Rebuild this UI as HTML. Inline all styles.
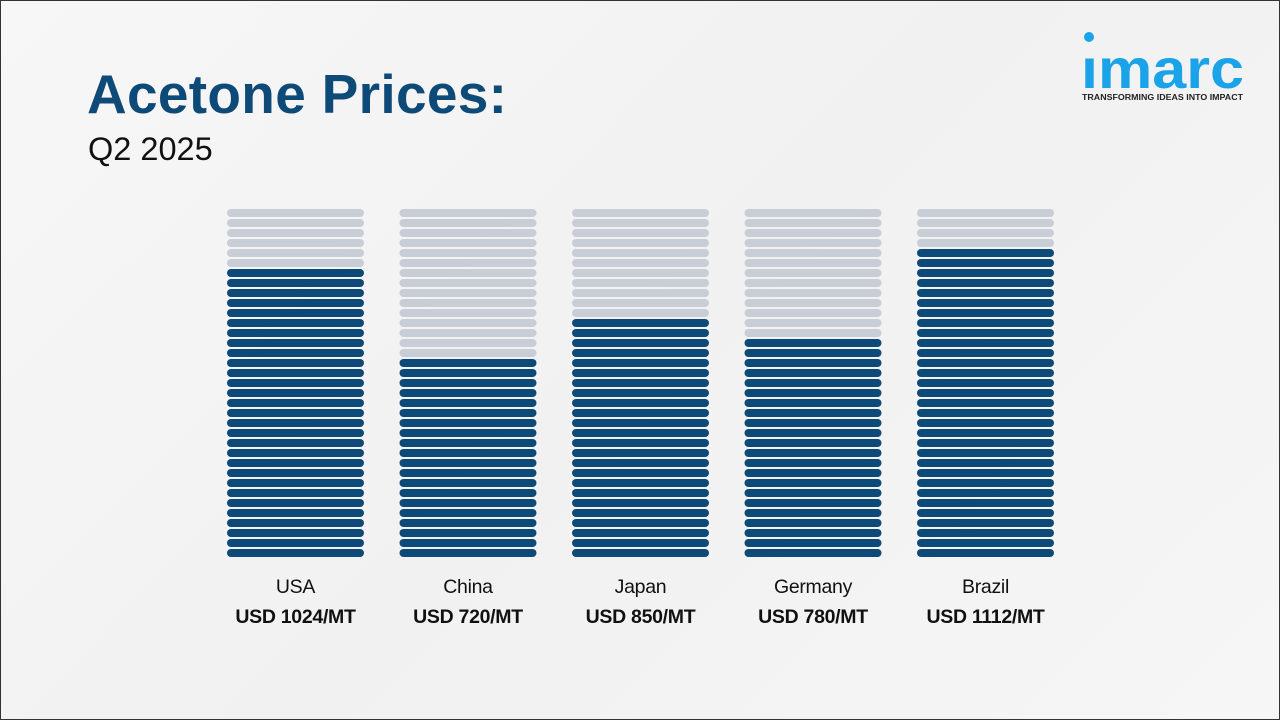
<!DOCTYPE html>
<html><head><meta charset="utf-8"><style>
html,body{margin:0;padding:0}
body{width:1280px;height:720px;position:relative;overflow:hidden;font-family:"Liberation Sans",sans-serif;background:linear-gradient(135deg,#f7f7f7 0%,#f1f1f1 50%,#f6f6f6 100%);}
.frame{position:absolute;left:0;top:0;width:1278px;height:718px;border:1px solid #333;}
.title{position:absolute;left:87px;top:62px;font-size:55px;font-weight:bold;color:#0e4a78;letter-spacing:0.3px;}
.sub{position:absolute;left:88px;top:131px;font-size:32.5px;color:#111;}
.logo{position:absolute;left:1080px;top:30px;width:170px;height:75px;}
.lbl{position:absolute;width:200px;text-align:center;font-size:19.5px;color:#111;letter-spacing:-0.3px;}
.val{font-weight:bold;font-size:19.5px;}
</style></head><body>
<div class="frame"></div>
<div class="title">Acetone Prices:</div>
<div class="sub">Q2 2025</div>
<svg class="logo" viewBox="0 0 170 75">
<circle cx="9" cy="7" r="5" fill="#1aa3e8"/>
<text x="1" y="58" font-family="Liberation Sans,sans-serif" font-size="56" fill="#1aa3e8" font-weight="bold" textLength="163" lengthAdjust="spacingAndGlyphs">ımarc</text>
<text x="2" y="70" font-family="Liberation Sans,sans-serif" font-size="8.6" font-weight="bold" fill="#222" textLength="161" lengthAdjust="spacingAndGlyphs">TRANSFORMING IDEAS INTO IMPACT</text>
</svg>
<svg id="chart" width="1280" height="720" style="position:absolute;left:0;top:0"></svg>
<div id="labels"></div>
<script>
const categories=["USA","China","Japan","Germany","Brazil"];
const values=[1024,720,850,780,1112];
const valueLabels=["USD 1024/MT","USD 720/MT","USD 850/MT","USD 780/MT","USD 1112/MT"];
const perSeg=35.5, totalSegs=35;
const ns="http://www.w3.org/2000/svg";
const svg=document.getElementById('chart');
const x0=227, colStep=172.5, colW=137, bottom=557, pitch=10, segH=8;
function xPos(i){return x0+i*colStep;}
function yPos(k){return bottom-segH-k*pitch;}
categories.forEach((c,i)=>{
  const dark=Math.round(values[i]/perSeg);
  for(let k=0;k<totalSegs;k++){
    const r=document.createElementNS(ns,'rect');
    r.setAttribute('x',xPos(i));r.setAttribute('y',yPos(k));
    r.setAttribute('width',colW);r.setAttribute('height',segH);
    r.setAttribute('rx',4);
    r.setAttribute('fill',k<dark?'#0e4a78':'#c9ced6');
    
    
    svg.appendChild(r);
  }
  const d=document.createElement('div');
  d.className='lbl';d.style.left=(xPos(i)+colW/2-100)+'px';d.style.top='576px';
  
  
  d.innerHTML=c+'<div class="val" style="margin-top:7px">'+valueLabels[i]+'</div>';
  document.getElementById('labels').appendChild(d);
});
</script>
</body></html>
